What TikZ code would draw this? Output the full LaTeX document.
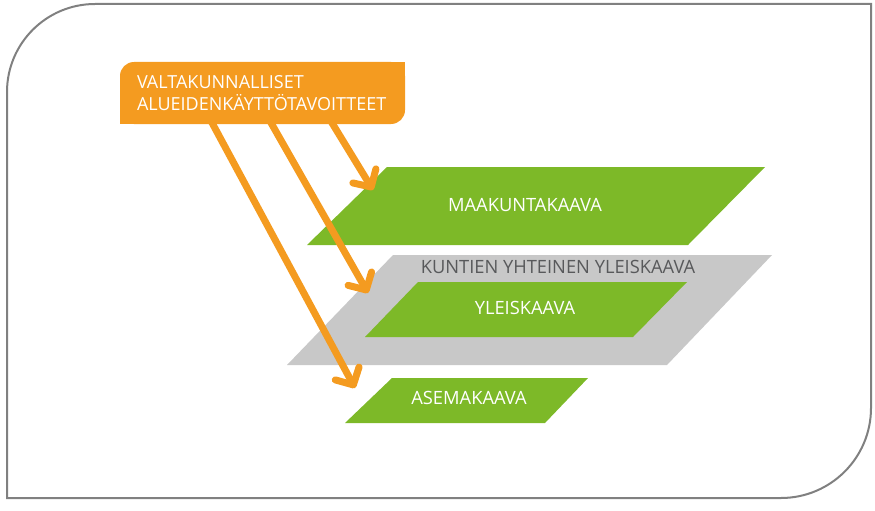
\documentclass[tikz,border=0pt]{standalone}
\usepackage{fontspec}
\setmainfont{Open Sans}
\usetikzlibrary{arrows.meta}
\definecolor{vatOrange}{RGB}{244,155,32}
\definecolor{kaavaGreen}{RGB}{125,185,40}
\definecolor{kuntaGray}{RGB}{200,200,200}
\definecolor{frameGray}{RGB}{128,128,128}
\definecolor{labelGray}{RGB}{88,89,91}

\begin{document}
\begin{tikzpicture}[
    x=1pt, y=-1pt,
    frame/.style={draw=frameGray, line width=2pt},
    plan/.style={fill=kaavaGreen},
    joint/.style={fill=kuntaGray},
    plantext/.style={text=white, inner sep=0pt, font=\fontsize{18.3}{21}\selectfont},
    goalbox/.style={fill=vatOrange, rounded corners=14pt, text=white, inner xsep=17pt, inner ysep=0pt,
        text width=251pt, minimum height=62pt, align=left, font=\fontsize{18}{21.5}\selectfont},
    arrow/.style={vatOrange, line width=7pt, shorten <=-6pt, -{Straight Barb[length=13pt,width=27pt,round]}}
]
\useasboundingbox (0,0) rectangle (875,511);
\draw[frame] (7,498) -- (7,92) arc[start angle=180, end angle=270, radius=88] -- (871,4)
    -- (871,408) arc[start angle=0, end angle=90, radius=90] -- cycle;

% kaavatasot
\fill[plan] (387,167) -- (765,167) -- (688,245) -- (307,245) -- cycle;
\node[plantext] (maakunta) at (525,205) {MAAKUNTAKAAVA};
\fill[joint] (393,255) -- (772,255) -- (667,365) -- (287,365) -- cycle;
\node[plantext, text=labelGray] (yhteinen) at (558,267) {KUNTIEN YHTEINEN YLEISKAAVA};
\fill[plan] (418,282) -- (687,282) -- (633,337) -- (365,337) -- cycle;
\node[plantext] (yleis) at (525,308) {YLEISKAAVA};
\fill[plan] (392,378) -- (588,378) -- (545,423) -- (345,423) -- cycle;
\node[plantext] (asema) at (469,398) {ASEMAKAAVA};

% tavoitteet
\node[goalbox] (vat) at (262.5,93) {VALTAKUNNALLISET\\ALUEIDENKÄYTTÖTAVOITTEET};
\fill[vatOrange] (vat.north east) rectangle ++(-16,16);
\fill[vatOrange] (vat.south west) rectangle ++(16,-16);

\coordinate (toMaakunta) at (373,190);
\coordinate (toYleis) at (368,293);
\coordinate (toAsema) at (355,388);
\draw[arrow] ([xshift=213pt]vat.south west) -- (toMaakunta);
\draw[arrow] ([xshift=152pt]vat.south west) -- (toYleis);
\draw[arrow] ([xshift=93pt]vat.south west) -- (toAsema);
\end{tikzpicture}
\end{document}
